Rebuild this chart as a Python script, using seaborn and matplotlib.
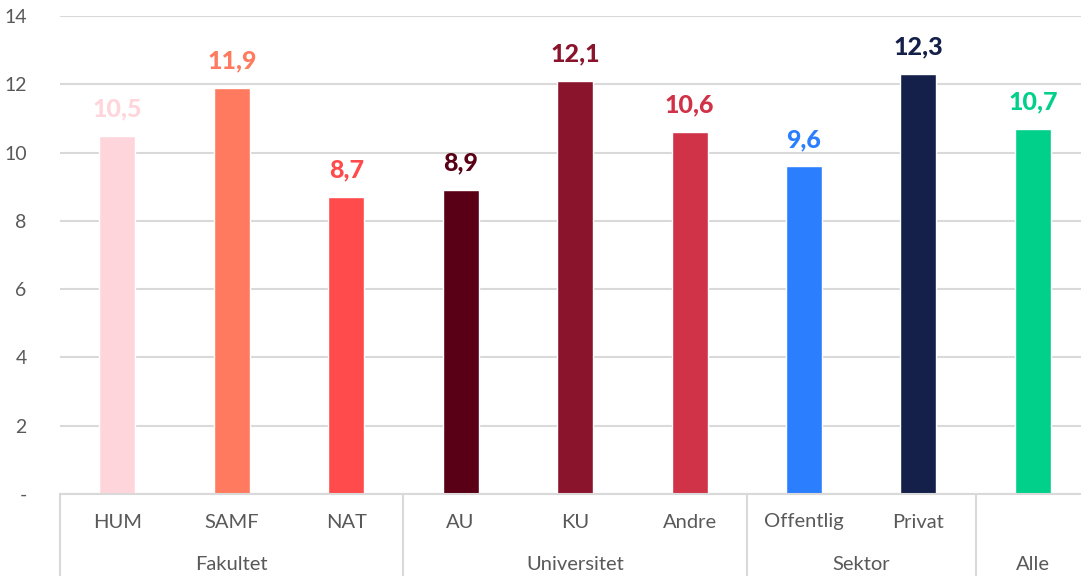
import pandas as pd
import seaborn as sns
import matplotlib.pyplot as plt
from matplotlib.lines import Line2D

categories = ['HUM', 'SAMF', 'NAT', 'AU', 'KU', 'Andre', 'Offentlig', 'Privat', 'Alle']
groups = ['Fakultet', 'Fakultet', 'Fakultet', 'Universitet', 'Universitet', 'Universitet',
          'Sektor', 'Sektor', 'Alle']
values = [10.5, 11.9, 8.7, 8.9, 12.1, 10.6, 9.6, 12.3, 10.7]
colors = ['#FFD5DC', '#FF7A5E', '#FF4B4B', '#5A0016', '#8B142D', '#D03348',
          '#2B7FFF', '#14204A', '#00D08A']
yticks = [0, 2, 4, 6, 8, 10, 12, 14]
ytick_labels = ['-', '2', '4', '6', '8', '10', '12', '14']

sns.set_theme(style='white')
plt.rcParams['font.family'] = ['Lato', 'DejaVu Sans']

df = pd.DataFrame({'kategori': categories, 'gruppe': groups, 'vaerdi': values})

fig = plt.figure(figsize=(10.81, 5.76), dpi=100)
ax = fig.add_axes([60 / 1081, 82 / 576, 1 - 60 / 1081, (494 - 16) / 576])
sns.barplot(data=df, x='kategori', y='vaerdi', hue='kategori', palette=colors,
            width=0.315, legend=False, ax=ax, saturation=1)

ax.set_ylim(0, 14)
ax.set_xlim(-0.5, 8.42)
ax.set_yticks(yticks)
ax.set_yticklabels(ytick_labels, fontsize=14, color='#595959')
ax.set_xticks([])
ax.set_xlabel('')
ax.set_ylabel('')
ax.tick_params(axis='y', length=0, pad=24)
ax.grid(axis='y', color='#d9d9d9', linewidth=1.5)
ax.set_axisbelow(True)
for s in ['top', 'right', 'left']:
    ax.spines[s].set_visible(False)
ax.spines['bottom'].set_color('#d9d9d9')
ax.spines['bottom'].set_linewidth(1.5)

for i, (v, c) in enumerate(zip(values, colors)):
    ax.annotate(f'{v:.1f}'.replace('.', ','), (i, v), xytext=(0, 11),
                textcoords='offset points', ha='center', va='bottom',
                fontsize=18, fontweight='black', color=c)

# category labels and group labels under the axis
trans = ax.get_xaxis_transform()
for i, (cat, g) in enumerate(zip(categories, groups)):
    if cat == g:
        continue
    ax.text(i, -28 / 478, cat, transform=trans, ha='center', va='center',
            fontsize=14.5, color='#595959')

group_names = []
for g in groups:
    if g not in group_names:
        group_names.append(g)
for g in group_names:
    idx = [i for i, gg in enumerate(groups) if gg == g]
    mid = (idx[0] + idx[-1]) / 2
    ax.text(mid, -70 / 478, g, transform=trans, ha='center', va='center',
            fontsize=14.5, color='#595959')

bounds = [-0.5]
for i in range(1, len(groups)):
    if groups[i] != groups[i - 1]:
        bounds.append(i - 0.5)
for b in bounds:
    ax.add_line(Line2D([b, b], [0, -82 / 478], transform=trans, color='#d9d9d9',
                       linewidth=1.5, clip_on=False))

fig.savefig('out.png', dpi=100)
